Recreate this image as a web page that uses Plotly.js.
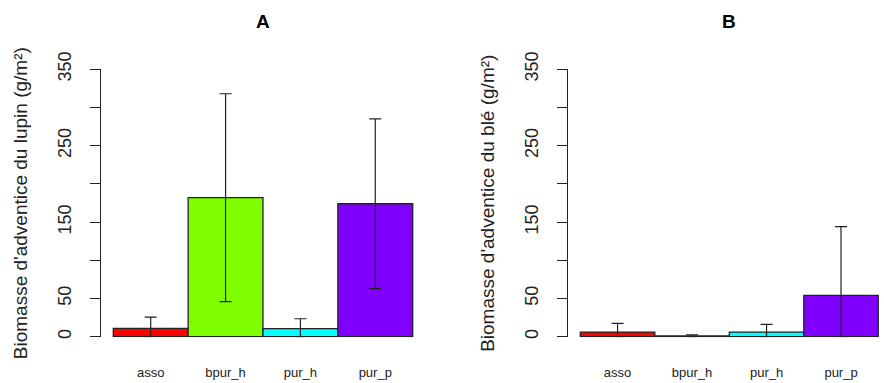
<!DOCTYPE html>
<html>
<head>
<meta charset="utf-8">
<script src="https://cdn.plot.ly/plotly-3.0.1.min.js"></script>
<style>html,body{margin:0;padding:0;background:#fff;}#chart{width:884px;height:383px;}</style>
</head>
<body>
<div id="chart"></div>
<script>
// Data
var categories = ["asso", "bpur_h", "pur_h", "pur_p"];
var barColors = ["#FF0000", "#80FF00", "#00FFFF", "#8000FF"];

var lupinMean = [11, 182, 10.5, 174];
var lupinErrUp = [14.5, 136, 13, 111];
var lupinErrDown = [11, 136, 10.5, 111];

var bleMean = [6, 1, 6, 54];
var bleErrUp = [11.5, 1.5, 10, 90];
var bleErrDown = [6, 1, 6, 54];

var yTickVals = [0, 50, 100, 150, 200, 250, 300, 350];
var yTickText = ["0", "50", "", "150", "", "250", "", "350"];

var titleA = "A";
var titleB = "B";
var yTitleA = "Biomasse d'adventice du lupin (g/m²)";
var yTitleB = "Biomasse d'adventice du blé (g/m²)";

var FONT = "Liberation Sans, Arial, sans-serif";
var INK = "#222";

function barTrace(y, up, down, xa, ya) {
  return {
    type: "bar",
    x: categories,
    y: y,
    xaxis: xa,
    yaxis: ya,
    width: 1,
    marker: {color: barColors, line: {color: INK, width: 1.3}},
    error_y: {type: "data", symmetric: false, array: up, arrayminus: down,
              color: INK, thickness: 1.2, width: 6},
    hoverinfo: "none",
    showlegend: false
  };
}

var data = [
  barTrace(lupinMean, lupinErrUp, lupinErrDown, "x", "y"),
  barTrace(bleMean, bleErrUp, bleErrDown, "x2", "y2")
];

function yAxis(domain, anchor, title) {
  return {
    domain: domain,
    anchor: anchor,
    range: [-0.6, 350],
    tickmode: "array",
    tickvals: yTickVals,
    ticktext: yTickText,
    tickangle: -90,
    ticks: "outside",
    ticklen: 10,
    tickwidth: 1,
    tickcolor: INK,
    showline: true,
    linecolor: INK,
    linewidth: 1,
    showgrid: false,
    zeroline: false,
    ticklabelstandoff: 12,
    tickfont: {family: FONT, size: 18, color: INK},
    title: {text: title, font: {family: FONT, size: 19, color: INK}, standoff: 22},
    automargin: false,
    fixedrange: true
  };
}

function xAxis(domain, anchor, range) {
  return {
    domain: domain,
    anchor: anchor,
    type: "category",
    range: range,
    showline: false,
    ticks: "",
    showgrid: false,
    zeroline: false,
    ticklabelstandoff: 26,
    tickfont: {family: FONT, size: 13, color: INK},
    automargin: false,
    fixedrange: true
  };
}

var yDom = [0.1197, 0.8191];

var layout = {
  width: 884,
  height: 383,
  margin: {l: 0, r: 0, t: 0, b: 0},
  paper_bgcolor: "#fff",
  plot_bgcolor: "rgba(0,0,0,0)",
  bargap: 0,
  font: {family: FONT, color: INK},
  xaxis: xAxis([0.1146, 0.4804], "y", [-0.66, 3.66]),
  yaxis: yAxis(yDom, "x", yTitleA),
  xaxis2: xAxis([0.643, 1], "y2", [-0.66, 3.577]),
  yaxis2: yAxis(yDom, "x2", yTitleB),
  annotations: [
    {text: "<b>" + titleA + "</b>", xref: "paper", yref: "paper", x: 0.2975, y: 0.944,
     xanchor: "center", yanchor: "middle", showarrow: false,
     font: {family: FONT, size: 19, color: "#000"}},
    {text: "<b>" + titleB + "</b>", xref: "paper", yref: "paper", x: 0.8247, y: 0.944,
     xanchor: "center", yanchor: "middle", showarrow: false,
     font: {family: FONT, size: 19, color: "#000"}}
  ]
};

Plotly.newPlot("chart", data, layout, {staticPlot: true, displayModeBar: false});
</script>
</body>
</html>
